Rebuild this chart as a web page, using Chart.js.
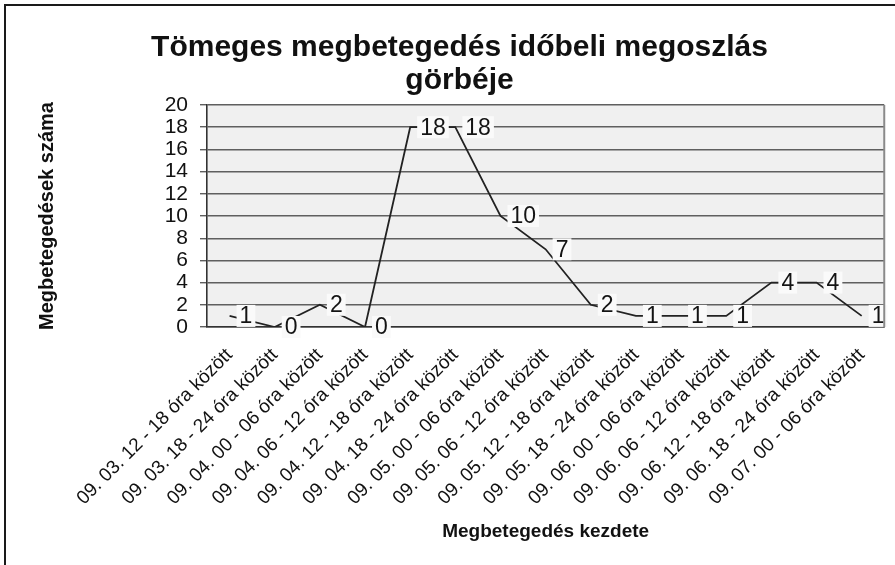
<!DOCTYPE html>
<html><head><meta charset="utf-8">
<script src="https://cdn.jsdelivr.net/npm/chart.js@4.4.1/dist/chart.umd.min.js"></script>
<style>
html,body{margin:0;padding:0;background:#fff;}
#wrap{position:relative;width:895px;height:565px;overflow:hidden;}
#frame{position:absolute;left:4px;top:4px;width:900px;height:570px;border-top:2px solid #1a1a1a;border-left:2px solid #1a1a1a;pointer-events:none;}
canvas{position:absolute;left:0;top:0;}
</style></head><body>
<div id="wrap"><canvas id="c" width="895" height="565"></canvas><div id="frame"></div></div>
<script>
const chartTitle = ['Tömeges megbetegedés időbeli megoszlás', 'görbéje'];
const yAxisTitle = 'Megbetegedések száma';
const xAxisTitle = 'Megbetegedés kezdete';
const categories = [
  '09. 03. 12 - 18 óra között',
  '09. 03. 18 - 24 óra között',
  '09. 04. 00 - 06 óra között',
  '09. 04. 06 - 12 óra között',
  '09. 04. 12 - 18 óra között',
  '09. 04. 18 - 24 óra között',
  '09. 05. 00 - 06 óra között',
  '09. 05. 06 - 12 óra között',
  '09. 05. 12 - 18 óra között',
  '09. 05. 18 - 24 óra között',
  '09. 06. 00 - 06 óra között',
  '09. 06. 06 - 12 óra között',
  '09. 06. 12 - 18 óra között',
  '09. 06. 18 - 24 óra között',
  '09. 07. 00 - 06 óra között'
];
const cases = [1, 0, 2, 0, 18, 18, 10, 7, 2, 1, 1, 1, 4, 4, 1];
const yMin = 0, yMax = 20, yStep = 2;

const FONT = '"Liberation Sans", Arial, Helvetica, sans-serif';

const plotBg = {
  id: 'plotBg',
  beforeDraw(chart) {
    const {ctx, chartArea: a} = chart;
    ctx.save();
    ctx.fillStyle = '#f0f0f0';
    ctx.fillRect(a.left, a.top, a.right - a.left, a.bottom - a.top);
    ctx.restore();
  },
  afterDraw(chart) {
    const {ctx, chartArea: a} = chart;
    ctx.save();
    ctx.strokeStyle = '#8a8a8a';
    ctx.lineWidth = 2;
    ctx.beginPath();
    ctx.moveTo(a.right, a.top);
    ctx.lineTo(a.right, a.bottom);
    ctx.stroke();
    ctx.restore();
  }
};

const pointLabels = {
  id: 'pointLabels',
  afterDatasetsDraw(chart) {
    const ctx = chart.ctx;
    const meta = chart.getDatasetMeta(0);
    const vals = chart.data.datasets[0].data;
    ctx.save();
    ctx.font = '23px ' + FONT;
    ctx.textBaseline = 'middle';
    ctx.textAlign = 'left';
    meta.data.forEach((pt, i) => {
      const t = String(vals[i]);
      const w = ctx.measureText(t).width;
      const x = pt.x + 10, y = pt.y;
      ctx.fillStyle = '#fafafa';
      ctx.fillRect(x - 3, y - 11, w + 6, 22);
      ctx.fillStyle = '#141414';
      ctx.fillText(t, x, y + 1);
    });
    ctx.restore();
  }
};

new Chart(document.getElementById('c'), {
  type: 'line',
  data: {
    labels: categories,
    datasets: [{
      data: cases,
      borderColor: '#222',
      borderWidth: 1.8,
      pointRadius: 0,
      tension: 0,
      fill: false
    }]
  },
  options: {
    responsive: false,
    animation: false,
    devicePixelRatio: 1,
    layout: {padding: {left: 30, right: 6, top: 31, bottom: 18}},
    plugins: {
      legend: {display: false},
      tooltip: {enabled: false},
      title: {
        display: true,
        text: chartTitle,
        color: '#111',
        font: {family: FONT, size: 30, weight: 'bold', lineHeight: 1.1},
        padding: {top: 0, bottom: 8}
      }
    },
    scales: {
      x: {
        type: 'category',
        offset: true,
        grid: {display: false, drawTicks: false},
        border: {display: true, color: '#333', width: 1.6},
        ticks: {
          autoSkip: false,
          minRotation: 45,
          maxRotation: 45,
          padding: 17,
          color: '#111',
          font: {family: FONT, size: 19}
        },
        title: {
          display: true,
          text: xAxisTitle,
          color: '#111',
          font: {family: FONT, size: 19, weight: 'bold'},
          padding: {top: 4, bottom: 4}
        },
        afterFit(s) { s.height = 220; }
      },
      y: {
        min: yMin,
        max: yMax,
        grid: {color: '#5f5f5f', lineWidth: 1.4, tickLength: 7, drawTicks: true},
        border: {display: true, color: '#333', width: 1.6},
        ticks: {
          stepSize: yStep,
          autoSkip: false,
          padding: 12,
          color: '#111',
          font: {family: FONT, size: 21, lineHeight: 1}
        },
        title: {
          display: true,
          text: yAxisTitle,
          color: '#111',
          font: {family: FONT, size: 20, weight: 'bold'},
          padding: {top: 5, bottom: 0}
        },
        afterFit(s) { s.width = 177; }
      }
    }
  },
  plugins: [plotBg, pointLabels]
});
</script>
</body></html>
